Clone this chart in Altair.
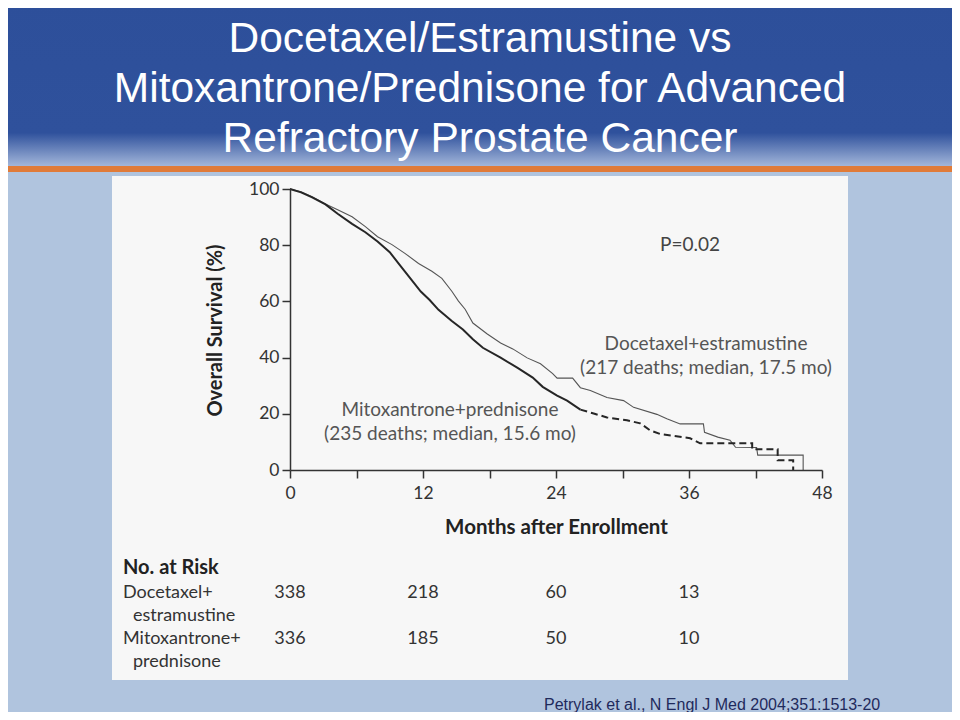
import altair as alt
import pandas as pd

# ---------------- data ----------------
title_lines = [
    "Docetaxel/Estramustine vs",
    "Mitoxantrone/Prednisone for Advanced",
    "Refractory Prostate Cancer",
]

# Docetaxel + estramustine (thin solid curve); repeated months = vertical steps
de_months = [0, 1.0, 2.0, 3.2, 4.3, 5.6, 6.8, 7.9, 9.2, 10.4, 11.6, 12.8, 13.7, 14.6,
             15.2, 15.8, 16.5, 17.8, 19.0, 20.1, 21.4, 22.6, 23.7, 24.1, 25.5, 26.2,
             27.1, 28.6, 30.1, 31.0, 33.1, 34.0, 35.2, 37.3, 37.4, 38.6, 39.7, 40.2,
             42.1, 42.2, 46.3, 46.3]
de_surv = [100, 99.0, 97.2, 94.7, 92.6, 90.1, 86.6, 83.0, 80.2, 77.0, 73.5, 70.7, 68.2, 63.6,
           60.1, 57.2, 52.3, 48.4, 45.2, 43.1, 39.9, 37.8, 34.3, 32.7, 32.7, 29.3,
           28.3, 25.8, 24.7, 22.3, 19.8, 18.2, 16.4, 16.4, 13.4, 11.7, 10.6, 8.1,
           8.0, 5.3, 5.3, 0]

# Mitoxantrone + prednisone (thick curve, dashed in its tail)
mp_months = [0, 1.0, 2.0, 3.2, 4.3, 5.6, 6.8, 7.9, 9.0, 10.0, 11.0, 11.8, 12.6, 13.4,
             14.6, 15.6, 16.5, 17.4, 19.0, 20.5, 21.9, 22.8, 24.1, 25.0, 26.2, 27.4,
             28.6, 30.4, 31.6, 32.5, 33.4, 36.1, 37.0, 41.7, 41.7, 44.0, 44.0, 45.4, 45.4]
mp_surv = [100, 98.8, 97.0, 94.5, 91.2, 87.6, 84.6, 81.3, 77.5, 72.5, 67.5, 63.5, 60.5, 57.0,
           53.0, 50.0, 46.5, 43.5, 40.0, 36.4, 32.9, 29.6, 26.5, 24.7, 21.5, 20.1,
           18.7, 17.7, 16.6, 14.1, 12.8, 11.3, 9.5, 9.5, 7.4, 7.4, 3.5, 3.5, 0]
mp_dash_from = 26.2  # month where the curve turns dashed

y_ticks = [0, 10, 20, 30, 40, 50, 60, 70, 80, 90, 100]
x_ticks = [0, 6, 12, 18, 24, 30, 36, 42, 48]

p_text = "P=0.02"
de_label = ["Docetaxel+estramustine", "(217 deaths; median, 17.5 mo)"]
mp_label = ["Mitoxantrone+prednisone", "(235 deaths; median, 15.6 mo)"]

risk_header = "No. at Risk"
risk_months = [0, 12, 24, 36]
risk_de = [338, 218, 60, 13]
risk_mp = [336, 185, 50, 10]
risk_de_name = ["Docetaxel+", "estramustine"]
risk_mp_name = ["Mitoxantrone+", "prednisone"]

citation = "Petrylak et al., N Engl J Med 2004;351:1513-20"

# ---------------- layout ----------------
OX, OY = 290, 189          # page position of the plot origin
W, H = 532, 281


def px(x):
    return x - OX


def py(y):
    return y - OY


one = pd.DataFrame({"k": [0]})
FONT = "Lato"
TXT = "#333333"


def rect(x1, y1, x2, y2, fill):
    return alt.Chart(one).mark_rect(fill=fill, stroke=None).encode(
        x=alt.value(px(x1)), x2=alt.value(px(x2)),
        y=alt.value(py(y1)), y2=alt.value(py(y2)))


def text_at(t, x, y, **kw):
    style = dict(font=FONT, fontSize=18, color=TXT, align="left", baseline="middle")
    style.update(kw)
    return alt.Chart(one).mark_text(text=t, **style).encode(
        x=alt.value(px(x)), y=alt.value(py(y)))


header = rect(0, 0, 960, 166, alt.LinearGradient(
    gradient="linear", x1=0, y1=0, x2=0, y2=1,
    stops=[alt.GradientStop(color="#2d4f9a", offset=0),
           alt.GradientStop(color="#2f519c", offset=0.8),
           alt.GradientStop(color="#a3b6da", offset=1)]))
orange = rect(0, 166, 960, 172, "#e07b39")
panel = rect(112, 176, 848, 680, "#f7f7f7")

title = alt.Chart(one).mark_text(
    text=title_lines, font="Liberation Sans", fontSize=42.5, color="white",
    align="center", baseline="alphabetic", lineHeight=50).encode(
    x=alt.value(px(480)), y=alt.value(py(52)))

de_df = pd.DataFrame({"month": de_months, "surv": de_surv, "i": range(len(de_months))})
mp_df = pd.DataFrame({"month": mp_months, "surv": mp_surv, "i": range(len(mp_months))})

xs = alt.Scale(domain=[0, 48], nice=False, zero=False)
ys = alt.Scale(domain=[0, 100], nice=False)

x_axis = alt.Axis(
    values=x_ticks, labelExpr="datum.value % 12 == 0 ? datum.label : ''",
    tickSize=8, tickWidth=1.5, tickColor=TXT, domainColor=TXT, domainWidth=1.5,
    labelFont=FONT, labelFontSize=17.5, labelColor=TXT, labelPadding=6,
    labelFlush=False, labelOverlap=False, grid=False, zindex=2,
    title="Months after Enrollment", titleFont=FONT, titleFontSize=20.5,
    titleFontWeight="bold", titleColor="#222", titleX=px(556), titleY=527 - 470,
    titleAlign="center", titleBaseline="middle", titleAnchor="middle")
y_axis = alt.Axis(
    values=y_ticks, labelExpr="datum.value % 20 == 0 ? datum.label : ''",
    tickSize=8, tickWidth=1.5, tickColor=TXT, domainColor=TXT, domainWidth=1.5,
    labelFont=FONT, labelFontSize=17.5, labelColor=TXT, labelPadding=3,
    labelFlush=False, labelOverlap=False, grid=False, zindex=2,
    title="Overall Survival (%)", titleFont=FONT, titleFontSize=20,
    titleFontWeight="bold", titleColor="#222", titleX=px(215), titleY=py(330),
    titleAngle=270, titleAlign="center", titleBaseline="middle", titleAnchor="middle")

de_line = alt.Chart(de_df).mark_line(color="#555555", strokeWidth=1.1).encode(
    x=alt.X("month:Q", scale=xs, axis=x_axis),
    y=alt.Y("surv:Q", scale=ys, axis=y_axis),
    order="i:Q")
mp_solid = alt.Chart(mp_df[mp_df.month <= mp_dash_from]).mark_line(
    color="#262626", strokeWidth=2).encode(x="month:Q", y="surv:Q", order="i:Q")
mp_dash = alt.Chart(mp_df[mp_df.month >= mp_dash_from]).mark_line(
    color="#262626", strokeWidth=2, strokeDash=[7, 4]).encode(
    x="month:Q", y="surv:Q", order="i:Q")

ann = alt.layer(
    text_at(p_text, 690, 245, align="center", color="#444", fontSize=19),
    text_at(de_label, 706, 344, align="center", color="#555", fontSize=19, lineHeight=24),
    text_at(mp_label, 450, 410, align="center", color="#555", fontSize=19, lineHeight=24),
)

risk_de_df = pd.DataFrame({"month": risk_months, "n": [str(v) for v in risk_de]})
risk_mp_df = pd.DataFrame({"month": risk_months, "n": [str(v) for v in risk_mp]})
risk_de_txt = alt.Chart(risk_de_df).mark_text(
    font=FONT, fontSize=18, color=TXT, align="center", baseline="middle").encode(
    x="month:Q", y=alt.value(py(593)), text="n:N")
risk_mp_txt = alt.Chart(risk_mp_df).mark_text(
    font=FONT, fontSize=18, color=TXT, align="center", baseline="middle").encode(
    x="month:Q", y=alt.value(py(639)), text="n:N")

table = alt.layer(
    text_at(risk_header, 123, 568, fontWeight="bold", color="#222", fontSize=20),
    text_at(risk_de_name[0], 123, 593),
    text_at(risk_de_name[1], 133, 616),
    text_at(risk_mp_name[0], 123, 639),
    text_at(risk_mp_name[1], 133, 662),
    risk_de_txt, risk_mp_txt,
)

cite = text_at(citation, 544, 705, font="Liberation Sans", fontSize=16, color="#1f2a5c")

chart = alt.layer(
    header, orange, panel, title,
    de_line, mp_solid, mp_dash, ann, table, cite,
).properties(
    width=W, height=H,
    autosize=alt.AutoSizeParams(type="none"),
    padding={"left": 282, "top": 181, "right": 944 - 282 - W, "bottom": 704 - 181 - H},
    background="#b0c4de",
).configure_view(stroke=None, fill=None)

chart.save("out.html", embed_options={"renderer": "svg", "actions": False})
